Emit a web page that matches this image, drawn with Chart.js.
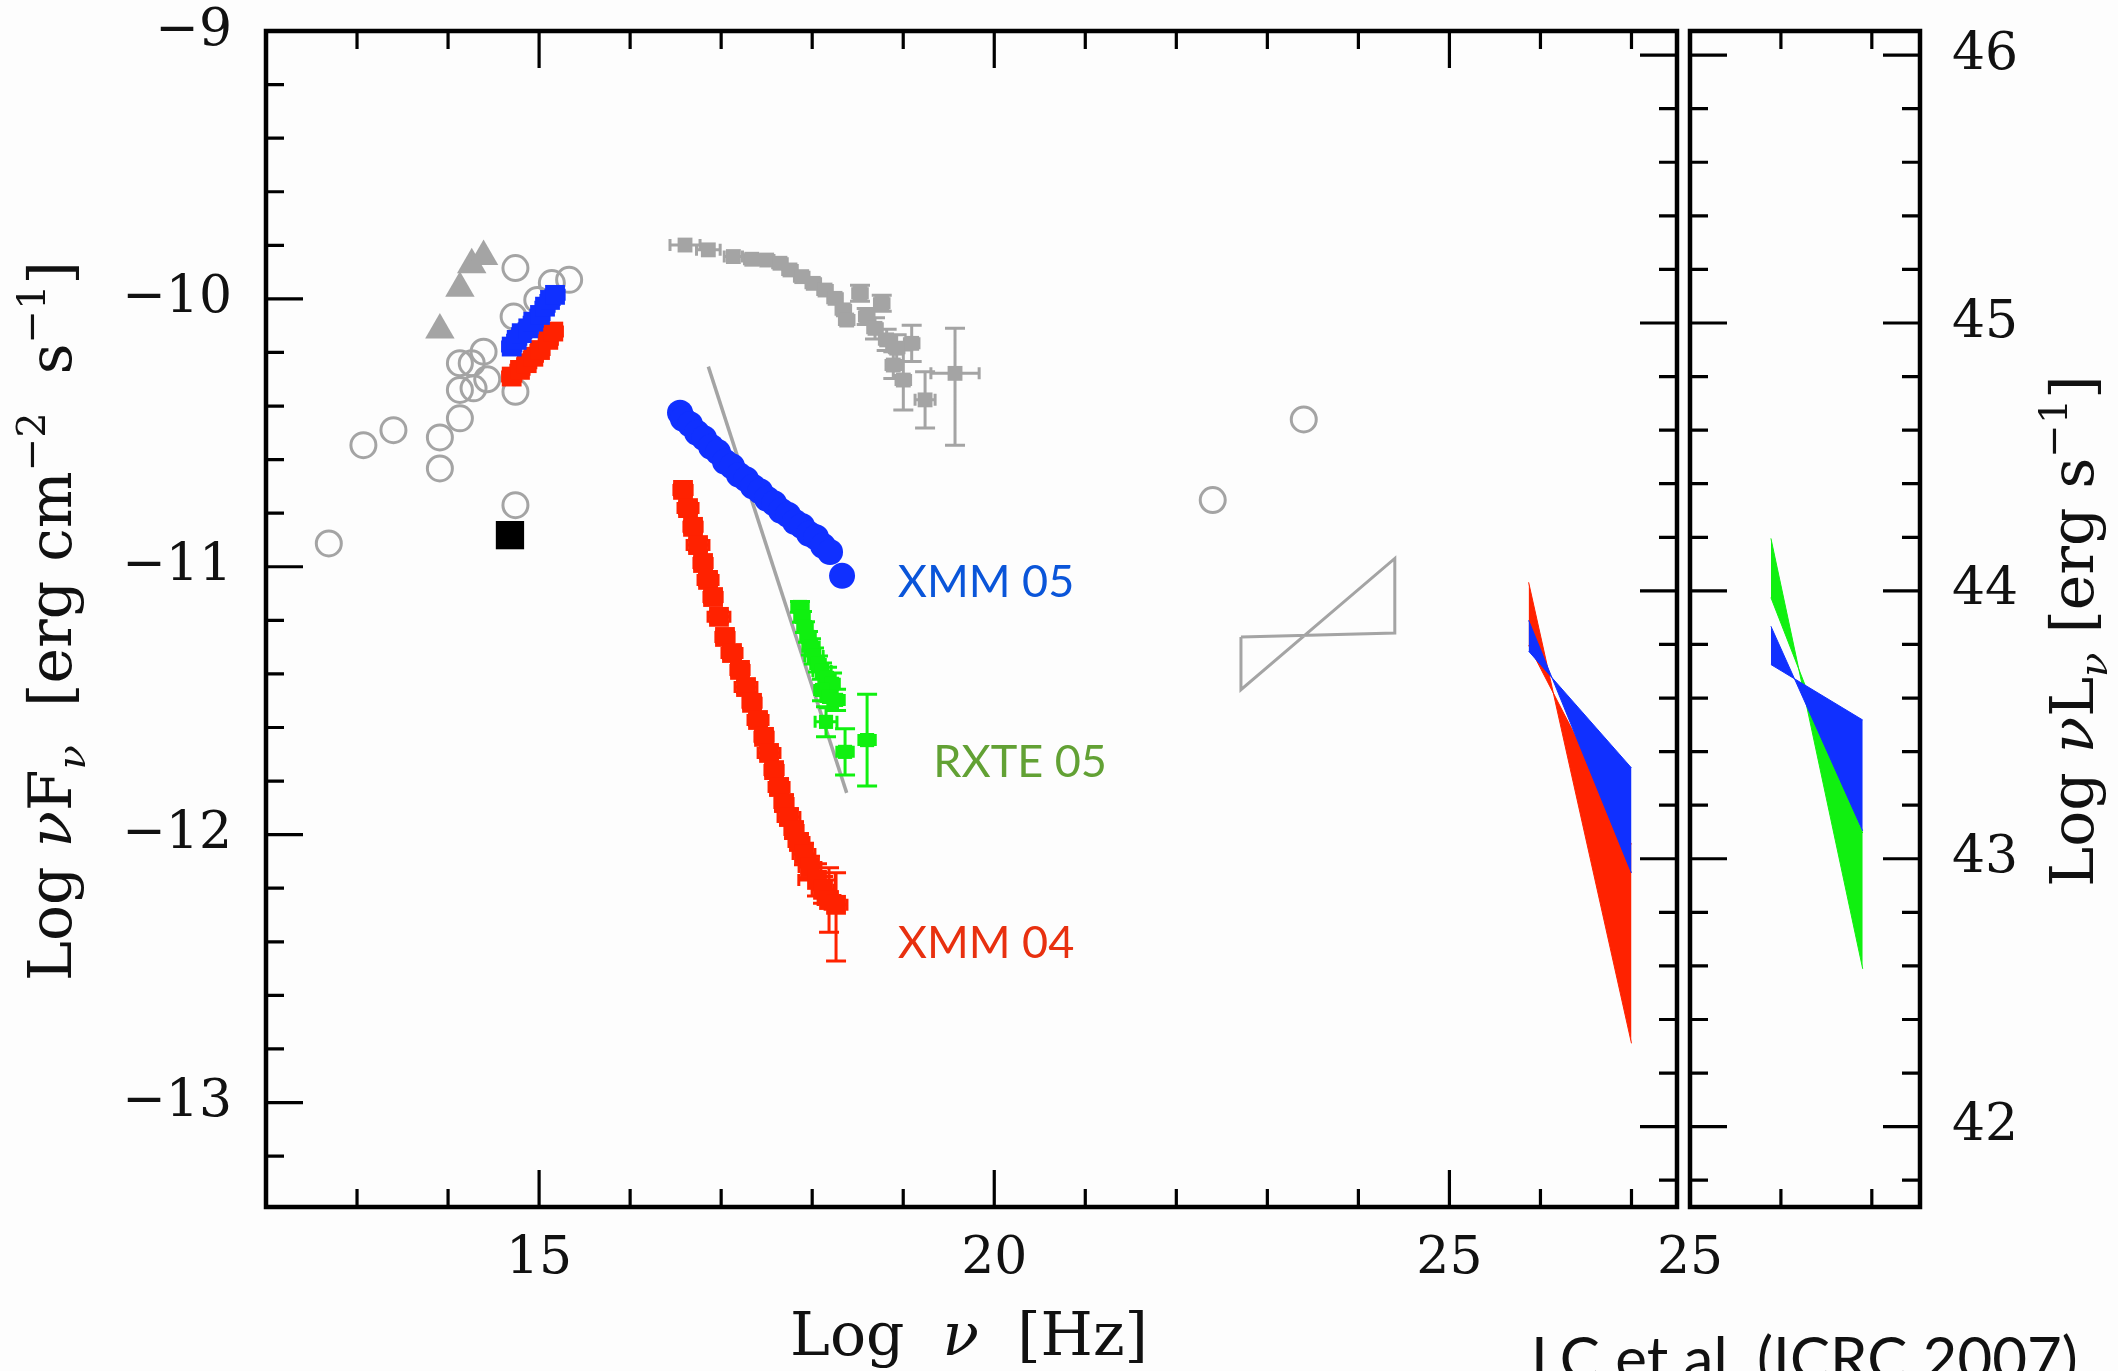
<!DOCTYPE html>
<html>
<head>
<meta charset="utf-8">
<title>SED</title>
<script src="https://cdn.jsdelivr.net/npm/chart.js@4.4.1/dist/chart.umd.min.js"></script>
<style>
  html, body { margin: 0; padding: 0; background: #fdfdfd; }
  #wrap { position: relative; width: 2118px; height: 1371px; overflow: hidden; }
  #wrap canvas { position: absolute; left: 0; top: 0; }
</style>
</head>
<body>
<div id="wrap">
  <canvas id="sedMain" width="2118" height="1371"></canvas>
  <canvas id="sedTev" width="2118" height="1371"></canvas>
</div>
<script>
// ---- axis ranges and ticks ----
const FREQ_MIN = 12, FREQ_MAX = 27.5;
const TEV_FREQ_MIN = 25, TEV_FREQ_MAX = 27.53;
const FLUX_MIN = -13.39, FLUX_MAX = -9;
const LUM_MIN = 41.70, LUM_MAX = 46.09;

const freqMajorTicks = [15, 20, 25];
const tevFreqMajorTicks = [25];
const fluxMajorTicks = [-13, -12, -11, -10, -9];
const lumMajorTicks = [42, 43, 44, 45, 46];

// ---- archival data ----
// radio / IR / optical + GeV points (open circles)
const archFreq = [12.69, 13.07, 13.40, 13.91, 13.91, 14.13, 14.13, 14.13, 14.26, 14.28, 14.39,
                  14.43, 14.72, 14.74, 14.74, 14.74, 14.98, 15.14, 15.33, 22.40, 23.40];
const archFlux = [-10.913, -10.546, -10.490, -10.517, -10.633, -10.240, -10.340, -10.446, -10.240, -10.334, -10.197,
                  -10.300, -10.066, -9.885, -10.347, -10.770, -10.004, -9.941, -9.929, -10.751, -10.450];
// near-IR (filled triangles)
const irFreq = [13.91, 14.13, 14.26, 14.39];
const irFlux = [-10.116, -9.960, -9.873, -9.842];
// optical point (black square)
const optFreq = [14.68];
const optFlux = [-10.882];
// archival X-ray spectrum (grey squares)
const oldXrayFreq = [16.603, 16.859, 17.134, 17.336, 17.500, 17.646, 17.756, 17.885, 18.012, 18.141, 18.251, 18.342,
                     18.379, 18.525, 18.599, 18.764, 18.690, 18.818, 18.928, 19.093, 18.891, 19.001, 19.240, 19.569];
const oldXrayFlux = [-9.799, -9.817, -9.842, -9.852, -9.855, -9.867, -9.892, -9.917, -9.942, -9.967, -9.998, -10.041,
                     -10.079, -9.979, -10.066, -10.016, -10.110, -10.153, -10.184, -10.166, -10.247, -10.303, -10.377, -10.278];
const oldXrayFreqErr = [0.165, 0.13, 0.1, 0.08, 0.08, 0.08, 0.08, 0.08, 0.08, 0.08, 0.08, 0.08,
                        0.08, 0.08, 0.08, 0.08, 0.08, 0.08, 0.08, 0.08, 0.08, 0.08, 0.11, 0.265];
const oldXrayFluxErr = [0, 0, 0, 0, 0, 0, 0, 0, 0, 0, 0, 0,
                        0, 0.03, 0.03, 0.03, 0.04, 0.04, 0.05, 0.068, 0.05, 0.112, 0.105, [0.268, 0.168]];
// power-law model through the hard X-rays (grey line)
const modelFreq = [16.859, 18.379];
const modelFlux = [-10.253, -11.844];
// GeV bowtie outline (grey)
const gevBowFreq = [22.71, 22.71, 24.40, 24.40, 22.71];
const gevBowFlux = [-11.262, -11.459, -10.969, -11.247, -11.262];

// ---- 2005 campaign (blue) ----
const om05Freq = [14.699, 14.754, 14.809, 14.881, 14.936, 15.010, 15.065, 15.120, 15.175];
const om05Flux = [-10.178, -10.153, -10.128, -10.110, -10.085, -10.060, -10.029, -10.004, -9.985];
const xmm05Freq = [16.548, 16.581, 16.658, 16.735, 16.812, 16.889, 16.965, 17.042, 17.119, 17.196, 17.273, 17.350,
                   17.427, 17.504, 17.581, 17.657, 17.734, 17.811, 17.888, 17.965, 18.042, 18.119, 18.196, 18.328];
const xmm05Flux = [-10.425, -10.448, -10.468, -10.500, -10.520, -10.552, -10.572, -10.608, -10.625, -10.657, -10.673, -10.701,
                   -10.718, -10.746, -10.763, -10.791, -10.806, -10.833, -10.848, -10.877, -10.890, -10.922, -10.945, -11.034];
const rxteFreq = [17.866, 17.888, 17.921, 17.954, 17.987, 18.020, 18.064, 18.108, 18.163, 18.218, 18.108, 18.185,
                  18.262, 18.152, 18.361, 18.603];
const rxteFlux = [-11.150, -11.187, -11.225, -11.262, -11.299, -11.333, -11.363, -11.389, -11.415, -11.437, -11.460, -11.486,
                  -11.497, -11.579, -11.691, -11.647];
const rxteFreqErr = [0.09, 0.08, 0.08, 0.08, 0.09, 0.1, 0.08, 0.1, 0.09, 0.08, 0.08, 0.09, 0.09, 0.12, 0.09, 0.09];
const rxteFluxErr = [0.02, 0.02, 0.02, 0.02, 0.03, 0.03, 0.03, 0.03, 0.04, 0.04, 0.04, 0.04, 0.04, 0.056, 0.086, 0.171];

// ---- 2004 campaign (red) ----
const om04Freq = [14.699, 14.790, 14.864, 14.937, 15.010, 15.101, 15.156];
const om04Flux = [-10.290, -10.265, -10.240, -10.216, -10.191, -10.153, -10.122];
const xmm04Freq = [16.581, 16.636, 16.691, 16.746, 16.801, 16.856, 16.911, 16.976, 17.042, 17.119, 17.207, 17.273, 17.339, 17.405,
                   17.471, 17.526, 17.581, 17.636, 17.690, 17.745, 17.800, 17.855, 17.910, 17.976, 18.053, 18.119, 18.185, 18.262];
const xmm04Flux = [-10.713, -10.781, -10.851, -10.919, -10.986, -11.049, -11.113, -11.187, -11.262, -11.322, -11.385, -11.449, -11.508, -11.572,
                   -11.635, -11.695, -11.759, -11.822, -11.882, -11.934, -11.983, -12.027, -12.072, -12.121, -12.169, -12.206, -12.244, -12.262];
const xmm04FreqErr = [0.1, 0.11, 0.1, 0.12, 0.1, 0.11, 0.1, 0.12, 0.1, 0.11, 0.1, 0.12, 0.1, 0.11,
                      0.1, 0.12, 0.1, 0.11, 0.1, 0.12, 0.1, 0.11, 0.12, 0.12, 0.2, 0.12, 0.12, 0.12];
const xmm04FluxErr = [0.02, 0.02, 0.02, 0.02, 0.02, 0.02, 0.02, 0.02, 0.02, 0.02, 0.02, 0.02, 0.02, 0.02,
                      0.02, 0.02, 0.02, 0.03, 0.03, 0.03, 0.03, 0.03, 0.04, 0.04, 0.06, 0.05, 0.12, [0.21, 0.12]];

// ---- TeV bowties, observed flux (left panel) ----
const tevFreq = [25.87, 27.0];
const tev04Upper = [-11.058, -12.779];
const tev04Lower = [-11.293, -12.036];
const tev05Upper = [-11.200, -12.143];
const tev05Lower = [-11.315, -11.751];

// ---- TeV bowties, intrinsic luminosity (right panel) ----
const tevLumFreq = [25.89, 26.90];
const lumGreenUpper = [44.196, 42.589];
const lumGreenLower = [43.975, 43.096];
const lumBlueUpper = [43.868, 43.104];
const lumBlueLower = [43.725, 43.518];

// ---- series tags ----
const tagText = ['XMM 05', 'RXTE 05', 'XMM 04'];
const tagFreq = [18.94, 19.33, 18.94];
const tagFlux = [-11.114, -11.785, -12.459];
const tagColor = ['#0a55d9', '#62a134', '#e8300f'];

// colours
const GREY = '#a4a4a4';
const RED = '#ff2200';
const BLUE = '#1030ff';
const GREEN = '#10f010';

const SERIF = "'DejaVu Serif', 'Liberation Serif', serif";
const SANS = "Lato, 'Open Sans', sans-serif";

const pts = (xs, ys) => xs.map((x, i) => ({ x, y: ys[i] }));

function minorTicks(min, max, step, majors) {
    const out = [];
    for (let k = Math.ceil(min / step - 1e-9); k * step <= max + 1e-9; k++) {
        const v = Math.round(k * step * 100) / 100;
        if (!majors.some(m => Math.abs(m - v) < 1e-6)) out.push(v);
    }
    return out;
}

const minusSign = v => String(v).replace('-', '\u2212');

// Draw a run of text pieces (with sub/superscripts), centred on (x, y)
function drawRich(ctx, pieces, x, y, vertical) {
    ctx.save();
    ctx.translate(x, y);
    if (vertical) ctx.rotate(-Math.PI / 2);
    ctx.textAlign = 'left';
    ctx.textBaseline = 'alphabetic';
    let total = 0;
    pieces.forEach(p => { ctx.font = p.font; total += ctx.measureText(p.text).width; });
    let cx = -total / 2;
    pieces.forEach(p => {
        ctx.font = p.font;
        ctx.fillStyle = '#111';
        ctx.fillText(p.text, cx, p.dy || 0);
        cx += ctx.measureText(p.text).width;
    });
    ctx.restore();
}

const F_MAIN = `60px ${SERIF}`;
const F_ITAL = `italic 60px ${SERIF}`;
const F_SUP = `40px ${SERIF}`;
const F_SUB = `italic 40px ${SERIF}`;

const fluxTitle = [
    { text: 'Log ', font: F_MAIN }, { text: 'ν', font: F_ITAL }, { text: 'F', font: F_MAIN },
    { text: 'ν', font: F_SUB, dy: 14 }, { text: '  [erg cm', font: F_MAIN },
    { text: '\u22122', font: F_SUP, dy: -26 }, { text: '  s', font: F_MAIN },
    { text: '\u22121', font: F_SUP, dy: -26 }, { text: ']', font: F_MAIN }
];
const lumTitle = [
    { text: 'Log ', font: F_MAIN }, { text: 'ν', font: F_ITAL }, { text: 'L', font: F_MAIN },
    { text: 'ν', font: F_SUB, dy: 14 }, { text: ' [erg s', font: F_MAIN },
    { text: '\u22121', font: F_SUP, dy: -26 }, { text: ']', font: F_MAIN }
];
const freqTitle = [
    { text: 'Log  ', font: F_MAIN }, { text: 'ν', font: F_ITAL }, { text: '  [Hz]', font: F_MAIN }
];

// Error bars, drawn just below each dataset's markers
const errorBarPlugin = {
    id: 'errorBars',
    beforeDatasetDraw(chart, args) {
        const ds = chart.data.datasets[args.index];
        if (!ds.xErr && !ds.yErr) return;
        const xs = chart.scales[args.meta.xAxisID];
        const ys = chart.scales[args.meta.yAxisID];
        const ctx = chart.ctx;
        const cap = 6;
        ctx.save();
        ctx.strokeStyle = ds.pointBackgroundColor;
        ctx.lineWidth = 3;
        ctx.beginPath();
        ds.data.forEach((p, i) => {
            const px = xs.getPixelForValue(p.x);
            const py = ys.getPixelForValue(p.y);
            const xe = ds.xErr ? ds.xErr[i] : 0;
            const ye = ds.yErr ? ds.yErr[i] : 0;
            if (xe) {
                const [lo, hi] = Array.isArray(xe) ? xe : [xe, xe];
                const x0 = xs.getPixelForValue(p.x - lo), x1 = xs.getPixelForValue(p.x + hi);
                ctx.moveTo(x0, py); ctx.lineTo(x1, py);
                ctx.moveTo(x0, py - cap); ctx.lineTo(x0, py + cap);
                ctx.moveTo(x1, py - cap); ctx.lineTo(x1, py + cap);
            }
            if (ye) {
                const [lo, hi] = Array.isArray(ye) ? ye : [ye, ye];
                const y0 = ys.getPixelForValue(p.y - lo), y1 = ys.getPixelForValue(p.y + hi);
                ctx.moveTo(px, y0); ctx.lineTo(px, y1);
                ctx.moveTo(px - cap - 4, y0); ctx.lineTo(px + cap + 4, y0);
                ctx.moveTo(px - cap - 4, y1); ctx.lineTo(px + cap + 4, y1);
            }
        });
        ctx.stroke();
        ctx.restore();
    }
};

// Box frame with inward ticks on all four sides
function makeFramePlugin(cfg) {
    const MAJOR = 37, MINOR = 18;
    return {
        id: 'frame',
        afterDatasetsDraw(chart) {
            const { ctx, chartArea: a, scales } = chart;
            const xs = scales.x, yl = scales[cfg.leftAxis], yr = scales[cfg.rightAxis];
            const inside = (s, v) => v >= Math.min(s.min, s.max) - 1e-9 && v <= Math.max(s.min, s.max) + 1e-9;
            ctx.save();
            ctx.strokeStyle = '#000';
            ctx.lineWidth = 3.2;
            ctx.beginPath();
            const xTicks = (vals, len) => vals.filter(v => inside(xs, v)).forEach(v => {
                const px = xs.getPixelForValue(v);
                ctx.moveTo(px, a.bottom); ctx.lineTo(px, a.bottom - len);
                ctx.moveTo(px, a.top); ctx.lineTo(px, a.top + len);
            });
            const yTicks = (s, vals, len, right) => vals.filter(v => inside(s, v)).forEach(v => {
                const py = s.getPixelForValue(v);
                if (right) { ctx.moveTo(a.right, py); ctx.lineTo(a.right - len, py); }
                else { ctx.moveTo(a.left, py); ctx.lineTo(a.left + len, py); }
            });
            xTicks(cfg.xMajor, MAJOR);
            xTicks(cfg.xMinor, MINOR);
            yTicks(yl, cfg.leftMajor, MAJOR, false);
            yTicks(yl, cfg.leftMinor, MINOR, false);
            yTicks(yr, cfg.rightMajor, MAJOR, true);
            yTicks(yr, cfg.rightMinor, MINOR, true);
            ctx.stroke();
            ctx.lineWidth = 4.5;
            ctx.strokeRect(a.left, a.top, a.right - a.left, a.bottom - a.top);
            ctx.restore();
        }
    };
}

const mainLabelsPlugin = {
    id: 'mainLabels',
    afterDraw(chart) {
        const { ctx, chartArea: a, scales } = chart;
        drawRich(ctx, fluxTitle, a.left - 195, 621, true);
        drawRich(ctx, freqTitle, 969, 1355, false);
        ctx.save();
        ctx.font = `45px ${SANS}`;
        ctx.textAlign = 'left';
        ctx.textBaseline = 'alphabetic';
        tagText.forEach((t, i) => {
            ctx.fillStyle = tagColor[i];
            ctx.fillText(t, scales.x.getPixelForValue(tagFreq[i]), scales.y.getPixelForValue(tagFlux[i]));
        });
        ctx.restore();
    }
};

const tevLabelsPlugin = {
    id: 'tevLabels',
    afterDraw(chart) {
        const { ctx, chartArea: a } = chart;
        drawRich(ctx, lumTitle, a.right + 173, 631, true);
        ctx.save();
        ctx.font = `60px ${SANS}`;
        ctx.fillStyle = '#111';
        ctx.textAlign = 'left';
        ctx.textBaseline = 'alphabetic';
        ctx.fillText('LC et al. (ICRC 2007)', 1531, 1380);
        ctx.restore();
    }
};

const tickFont = { family: SERIF, size: 52 };

// keep tick labels from pushing the plot area around
const noLabelPadding = s => { s.paddingTop = 0; s.paddingBottom = 0; s.paddingLeft = 0; s.paddingRight = 0; };

const markers = (color, style, radius) => ({
    pointStyle: style, pointRadius: radius, pointBackgroundColor: color,
    pointBorderColor: color, pointBorderWidth: 0, showLine: false
});
const edge = (color, xs, ys, axis, fill) => ({
    data: pts(xs, ys), showLine: true, pointRadius: 0, borderColor: color,
    borderWidth: 1, backgroundColor: color, fill: fill || false, yAxisID: axis
});

// ---- left panel: observed SED ----
new Chart(document.getElementById('sedMain'), {
    type: 'scatter',
    data: {
        datasets: [
            { data: pts(rxteFreq, rxteFlux), ...markers(GREEN, 'rect', 10), xErr: rxteFreqErr, yErr: rxteFluxErr },
            { data: pts(xmm05Freq, xmm05Flux), ...markers(BLUE, 'circle', 13) },
            { data: pts(xmm04Freq, xmm04Flux), ...markers(RED, 'rect', 14), xErr: xmm04FreqErr, yErr: xmm04FluxErr },
            { data: pts(om05Freq, om05Flux), ...markers(BLUE, 'rect', 14), xErr: om05Freq.map(() => 0.1) },
            { data: pts(om04Freq, om04Flux), ...markers(RED, 'rect', 14), xErr: om04Freq.map(() => 0.1) },
            edge(BLUE, tevFreq, tev05Upper, 'y', '+1'),
            edge(BLUE, tevFreq, tev05Lower, 'y'),
            edge(RED, tevFreq, tev04Upper, 'y', '+1'),
            edge(RED, tevFreq, tev04Lower, 'y'),
            { data: pts(modelFreq, modelFlux), showLine: true, pointRadius: 0, borderColor: GREY, borderWidth: 3.5 },
            { data: pts(gevBowFreq, gevBowFlux), showLine: true, pointRadius: 0, borderColor: GREY, borderWidth: 3 },
            { data: pts(oldXrayFreq, oldXrayFlux), ...markers(GREY, 'rect', 10.5), xErr: oldXrayFreqErr, yErr: oldXrayFluxErr },
            { data: pts(optFreq, optFlux), ...markers('#000', 'rect', 20) },
            { data: pts(irFreq, irFlux), ...markers(GREY, 'triangle', 17) },
            { data: pts(archFreq, archFlux), pointStyle: 'circle', pointRadius: 12.5, pointBorderWidth: 3,
              pointBorderColor: GREY, pointBackgroundColor: 'rgba(0,0,0,0)', showLine: false }
        ]
    },
    options: {
        responsive: false,
        animation: false,
        events: [],
        layout: { padding: { left: 0, top: 31, right: 441, bottom: 0 } },
        plugins: { legend: { display: false }, tooltip: { enabled: false } },
        scales: {
            x: {
                type: 'linear', position: 'bottom', min: FREQ_MIN, max: FREQ_MAX,
                grid: { display: false, drawTicks: false }, border: { display: false },
                afterBuildTicks: s => { s.ticks = freqMajorTicks.map(v => ({ value: v })); },
                afterFit: s => { s.height = 164; noLabelPadding(s); },
                ticks: { font: tickFont, color: '#111', padding: 21, maxRotation: 0, autoSkip: false, callback: minusSign }
            },
            y: {
                type: 'linear', position: 'left', min: FLUX_MIN, max: FLUX_MAX,
                grid: { display: false, drawTicks: false }, border: { display: false },
                afterBuildTicks: s => { s.ticks = fluxMajorTicks.map(v => ({ value: v })); },
                afterFit: s => { s.width = 266; noLabelPadding(s); },
                ticks: { font: { ...tickFont, lineHeight: 1 }, color: '#111', padding: 34, autoSkip: false, callback: minusSign }
            },
            yL: { type: 'linear', position: 'right', min: LUM_MIN, max: LUM_MAX, display: false }
        }
    },
    plugins: [errorBarPlugin, makeFramePlugin({
        leftAxis: 'y', rightAxis: 'yL',
        xMajor: freqMajorTicks, xMinor: minorTicks(12.5, FREQ_MAX, 1, freqMajorTicks),
        leftMajor: fluxMajorTicks, leftMinor: minorTicks(FLUX_MIN, FLUX_MAX, 0.2, fluxMajorTicks),
        rightMajor: lumMajorTicks, rightMinor: minorTicks(LUM_MIN, LUM_MAX, 0.2, lumMajorTicks)
    }), mainLabelsPlugin]
});

// ---- right panel: intrinsic TeV luminosity ----
new Chart(document.getElementById('sedTev'), {
    type: 'scatter',
    data: {
        datasets: [
            edge(BLUE, tevLumFreq, lumBlueUpper, 'yL', '+1'),
            edge(BLUE, tevLumFreq, lumBlueLower, 'yL'),
            edge(GREEN, tevLumFreq, lumGreenUpper, 'yL', '+1'),
            edge(GREEN, tevLumFreq, lumGreenLower, 'yL')
        ]
    },
    options: {
        responsive: false,
        animation: false,
        events: [],
        layout: { padding: { left: 1690, top: 31, right: 0, bottom: 0 } },
        plugins: { legend: { display: false }, tooltip: { enabled: false } },
        scales: {
            x: {
                type: 'linear', position: 'bottom', min: TEV_FREQ_MIN, max: TEV_FREQ_MAX,
                grid: { display: false, drawTicks: false }, border: { display: false },
                afterBuildTicks: s => { s.ticks = tevFreqMajorTicks.map(v => ({ value: v })); },
                afterFit: s => { s.height = 164; noLabelPadding(s); },
                ticks: { font: tickFont, color: '#111', padding: 21, maxRotation: 0, autoSkip: false }
            },
            y: { type: 'linear', position: 'left', min: FLUX_MIN, max: FLUX_MAX, display: false },
            yL: {
                type: 'linear', position: 'right', min: LUM_MIN, max: LUM_MAX,
                grid: { display: false, drawTicks: false }, border: { display: false },
                afterBuildTicks: s => { s.ticks = lumMajorTicks.map(v => ({ value: v })); },
                afterFit: s => { s.width = 198; noLabelPadding(s); },
                ticks: { font: { ...tickFont, lineHeight: 1 }, color: '#111', padding: 32, autoSkip: false }
            }
        }
    },
    plugins: [makeFramePlugin({
        leftAxis: 'yL', rightAxis: 'yL',
        xMajor: tevFreqMajorTicks, xMinor: minorTicks(TEV_FREQ_MIN, TEV_FREQ_MAX, 1, tevFreqMajorTicks),
        leftMajor: lumMajorTicks, leftMinor: minorTicks(LUM_MIN, LUM_MAX, 0.2, lumMajorTicks),
        rightMajor: lumMajorTicks, rightMinor: minorTicks(LUM_MIN, LUM_MAX, 0.2, lumMajorTicks)
    }), tevLabelsPlugin]
});
</script>
</body>
</html>
